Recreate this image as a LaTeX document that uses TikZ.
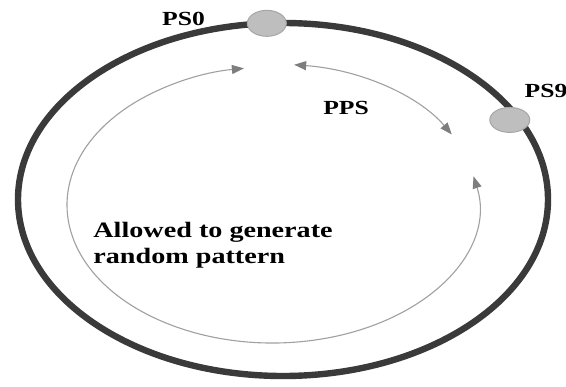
\documentclass[tikz,border=0pt]{standalone}
\usepackage{fontspec}
\setmainfont[FakeStretch=1.28]{Liberation Serif}
\usetikzlibrary{arrows.meta,shapes.geometric}
\definecolor{ringgray}{HTML}{3A3A3A}
\definecolor{arcgray}{HTML}{A0A0A0}
\definecolor{tipgray}{HTML}{7E7E7E}
\definecolor{ballgray}{HTML}{BEBEBE}

\begin{document}
\begin{tikzpicture}[x=0.5pt,y=0.5pt,
ring/.style={draw=ringgray,line width=3.2pt},
ps/.style={ellipse,draw=gray!70,fill=ballgray,line width=0.5pt,inner sep=0pt,minimum width=19.5pt,minimum height=13pt},
lbl/.style={font=\fontsize{10}{12}\selectfont\bfseries,inner sep=0pt},
arr/.style={{Triangle[length=6pt,width=4.5pt,color=tipgray]}-{Triangle[length=6pt,width=4.5pt,color=tipgray]},draw=arcgray,line width=0.55pt}]
\useasboundingbox (0,0) rectangle (566,386);
\coordinate (o) at (283,186.5);
\coordinate (c) at (272.5,181);
% outer ring with the two stations
\draw[ring] (o) ellipse [x radius=265,y radius=176.5];
\path (o) ++(93.5:265 and 176.5) node[ps] (ps0) {};
\path (o) ++(29:265 and 176.5) node[ps,minimum width=20pt,minimum height=12.5pt,xshift=-2.5pt,yshift=-3pt] (ps9) {};
\node[lbl,anchor=base] (ps0lbl) at (183.5,360) {PS0};
\node[lbl,anchor=base] (ps9lbl) at (546,288) {PS9};
% inner arcs
\draw[arr] (c) ++(12:205.5 and 138) arc [start angle=12,end angle=-262,x radius=205.5,y radius=138];
\draw[arr] (c) ++(84:207 and 141) arc [start angle=84,end angle=30,x radius=207,y radius=141];
\node[lbl,anchor=base] (pps) at (346,271) {PPS};
\node[font=\fontsize{11}{13}\selectfont\bfseries,inner sep=0pt,align=left,anchor=north west] (rnd) at (93,164) {Allowed to generate\\random pattern};
\end{tikzpicture}
\end{document}
